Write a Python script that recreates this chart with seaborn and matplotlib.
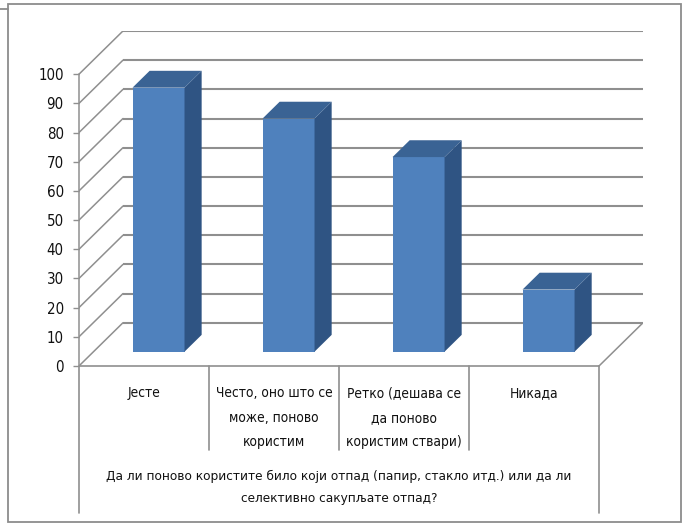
import os
import matplotlib
matplotlib.use("Agg")
import matplotlib.pyplot as plt
from matplotlib import font_manager as fm
from matplotlib.patches import Polygon, Rectangle
from matplotlib.lines import Line2D
import seaborn as sns
import pandas as pd

# ---- data -------------------------------------------------------------
categories = [
    "Јесте",
    "Често, оно што се\nможе, поново\nкористим",
    "Ретко (дешава се\nда поново\nкористим ствари)",
    "Никада",
]
values = [90.5, 79.9, 66.7, 21.3]
y_ticks = list(range(0, 101, 10))
axis_title = ("Да ли поново користите било који отпад (папир, стакло итд.) или да ли\n"
              "селективно сакупљате отпад?")

# ---- style ------------------------------------------------------------
sns.set_theme(style="white")
plt.rcParams["font.family"] = ["DejaVu Sans"]


def narrow_font():
    """Return a FontProperties for a narrow sans face, if one is installed."""
    wanted = ["liberationsansnarrow-regular", "notosans-extracondensed",
              "notosans-condensed", "dejavusanscondensed", "robotocondensed-regular",
              "opensans_condensed-regular", "opensans-condensedregular",
              "notosans-semicondensed", "roboto_condensed-regular"]
    files = {os.path.splitext(os.path.basename(f.fname))[0].lower(): f.fname
             for f in fm.fontManager.ttflist}
    for w in wanted:
        if w in files:
            return fm.FontProperties(fname=files[w]), w
    return fm.FontProperties(family="DejaVu Sans"), None


FONT, FONT_KEY = narrow_font()
if FONT_KEY in ("liberationsansnarrow-regular", "notosans-extracondensed"):
    TICK_SIZE, LABEL_SIZE, TITLE_SIZE = 12.5, 12, 11.8
elif FONT_KEY is not None:
    TICK_SIZE, LABEL_SIZE, TITLE_SIZE = 10.8, 9.9, 9.7
else:
    TICK_SIZE, LABEL_SIZE, TITLE_SIZE = 10, 8.5, 8

FRONT = "#4F81BD"
SIDE = "#2F5483"
TOP = "#3A6394"
GRID = "#8f8f8f"

# oblique projection of the depth axis (category units, value units)
DEPTH_X, DEPTH_Y = 0.338, 14.8
BAR_FRONT = 0.33      # bar front plane, as a share of the floor depth
BAR_DEPTH = 0.39      # bar thickness, as a share of the floor depth
N = len(categories)
X_LEFT, X_RIGHT = -0.5, N - 0.5

fig = plt.figure(figsize=(6.85, 5.25), dpi=100)
ax = fig.add_axes([79 / 685, 12 / 525, 564 / 685, 482 / 525])

# ---- walls and floor ----------------------------------------------------
for v in y_ticks:
    # back wall gridline
    ax.plot([X_LEFT + DEPTH_X, X_RIGHT + DEPTH_X], [v + DEPTH_Y] * 2,
            color=GRID, lw=1.5, zorder=1, solid_capstyle="butt")
    # side wall line
    ax.plot([X_LEFT, X_LEFT + DEPTH_X], [v, v + DEPTH_Y],
            color=GRID, lw=1.1, zorder=1)
# floor outline
ax.plot([X_LEFT, X_RIGHT], [0, 0], color=GRID, lw=1.2, zorder=1)
ax.plot([X_RIGHT, X_RIGHT + DEPTH_X], [0, DEPTH_Y], color=GRID, lw=1.1, zorder=1)

# ---- bars ---------------------------------------------------------------
df = pd.DataFrame({"answer": categories, "share": values})
sns.barplot(data=df, x="answer", y="share", color=FRONT, saturation=1,
            width=0.4, ax=ax, zorder=3)

shift_x, shift_y = BAR_FRONT * DEPTH_X, BAR_FRONT * DEPTH_Y
bdx, bdy = BAR_DEPTH * DEPTH_X, BAR_DEPTH * DEPTH_Y
for patch in ax.patches:
    patch.set_x(patch.get_x() + shift_x)
    patch.set_y(shift_y)
    patch.set_linewidth(0)
    x0 = patch.get_x()
    x1 = x0 + patch.get_width()
    y0 = shift_y
    y1 = y0 + patch.get_height()
    ax.add_patch(Polygon([(x1, y0), (x1 + bdx, y0 + bdy), (x1 + bdx, y1 + bdy), (x1, y1)],
                         closed=True, facecolor=SIDE, edgecolor="none", zorder=3))
    ax.add_patch(Polygon([(x0, y1), (x0 + bdx, y1 + bdy), (x1 + bdx, y1 + bdy), (x1, y1)],
                         closed=True, facecolor=TOP, edgecolor="none", zorder=3))

# ---- axes ---------------------------------------------------------------
ax.set_xlim(X_LEFT, X_RIGHT + DEPTH_X)
ax.set_ylim(-50.4, 114.8)
ax.set_xticks([])
ax.set_xlabel("")
ax.set_ylabel("")
ax.set_yticks(y_ticks)
ax.set_yticklabels([str(t) for t in y_ticks], color="#111111")
for lab in ax.get_yticklabels():
    lab.set_fontproperties(FONT)
    lab.set_fontsize(TICK_SIZE)
ax.tick_params(axis="y", left=True, length=4, width=1, color=GRID, pad=7)
for side in ("top", "right", "bottom"):
    ax.spines[side].set_visible(False)
ax.spines["left"].set_bounds(0, 100)
ax.spines["left"].set_color(GRID)
ax.spines["left"].set_linewidth(1.1)
ax.set_facecolor("none")

# ---- category table below the floor --------------------------------------
for i in range(N + 1):
    x = X_LEFT + i
    bottom = -50.4 if i in (0, N) else -28.8
    ax.plot([x, x], [0, bottom], color=GRID, lw=1.2, zorder=1, clip_on=False)

for i, label in enumerate(categories):
    ax.text(i, -7.0, label, ha="center", va="top", fontproperties=FONT,
            fontsize=LABEL_SIZE, linespacing=1.95, color="#111111")

ax.text((X_LEFT + X_RIGHT) / 2, -35.6, axis_title, ha="center", va="top",
        fontproperties=FONT, fontsize=TITLE_SIZE, linespacing=1.9, color="#111111")

# ---- chart frame ----------------------------------------------------------
fig.add_artist(Rectangle((8 / 685, 3 / 525), 673 / 685, 518 / 525,
                         transform=fig.transFigure, fill=False,
                         edgecolor="#8c8c8c", lw=1.3))
fig.add_artist(Line2D([0, 8 / 685], [1 - 9 / 525] * 2, transform=fig.transFigure,
                      color="#8c8c8c", lw=1.3))

fig.savefig("out.png", dpi=100)
